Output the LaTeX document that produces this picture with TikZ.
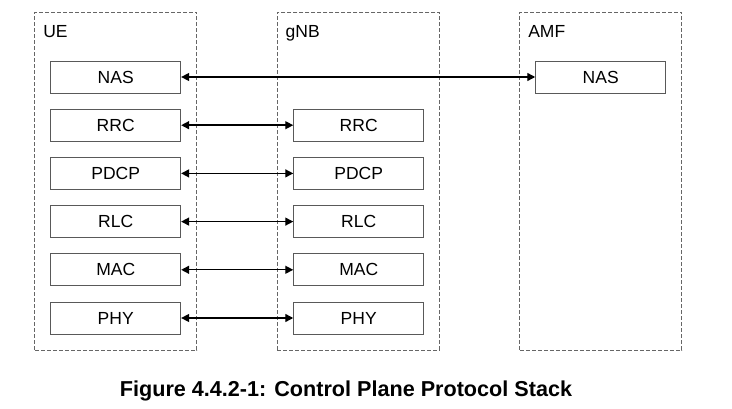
\documentclass[tikz,border=0pt]{standalone}
\usepackage{fontspec}
\setmainfont{Liberation Sans}
\usetikzlibrary{positioning,arrows.meta}
\tikzset{ layer/.style={draw=black!65,line width=0.9pt,minimum width=130pt,minimum height=32pt,inner sep=0pt,font=\fontsize{17.5}{21}\selectfont},
  stack/.style={draw=black!60,line width=0.9pt,dash pattern=on 4pt off 2pt,minimum width=162pt,minimum height=338pt,inner sep=0pt},
  tag/.style={anchor=base west,inner sep=0pt,font=\fontsize{17.5}{21}\selectfont},
  link/.style={{Triangle[length=8pt,width=8pt]}-{Triangle[length=8pt,width=8pt]},line width=1.4pt} }

\begin{document}
\begin{tikzpicture}[x=1pt,y=1pt,node distance=15.3pt and 112.1pt]
   \useasboundingbox (0,0) rectangle (732,-409);
   \node[stack] (ue) at (115.9,-181.2) {};
   \node[stack] (gnb) at (358.3,-181.2) {};
   \node[stack] (amf) at (600.9,-181.2) {};
   \node[tag] (uetag) at ([xshift=8.6pt,yshift=-26pt]ue.north west) {UE};
   \node[tag] (gnbtag) at ([xshift=8.6pt,yshift=-26pt]gnb.north west) {gNB};
   \node[tag] (amftag) at ([xshift=8.6pt,yshift=-26pt]amf.north west) {AMF};
   \node[layer] (uenas) at (115.7,-77) {NAS};
   \node[layer,below=of uenas] (uerrc) {RRC};
   \node[layer,below=of uerrc] (uepdcp) {PDCP};
   \node[layer,below=of uepdcp] (uerlc) {RLC};
   \node[layer,below=of uerlc] (uemac) {MAC};
   \node[layer,below=of uemac] (uephy) {PHY};
   \node[layer,right=of uerrc] (gnbrrc) {RRC};
   \node[layer,right=of uepdcp] (gnbpdcp) {PDCP};
   \node[layer,right=of uerlc] (gnbrlc) {RLC};
   \node[layer,right=of uemac] (gnbmac) {MAC};
   \node[layer,right=of uephy] (gnbphy) {PHY};
   \node[layer] (amfnas) at (600.7,-77) {NAS};
   \draw[link] (uenas) -- (amfnas);
   \foreach \l in {rrc,pdcp,rlc,mac,phy}
      \draw[link] (ue\l) -- (gnb\l);
   \node[anchor=base,inner sep=0pt,font=\fontsize{21.6}{26}\selectfont\bfseries] (caption) at (346,-396.7) {Figure 4.4.2-1: Control Plane Protocol Stack};
\end{tikzpicture}
\end{document}
